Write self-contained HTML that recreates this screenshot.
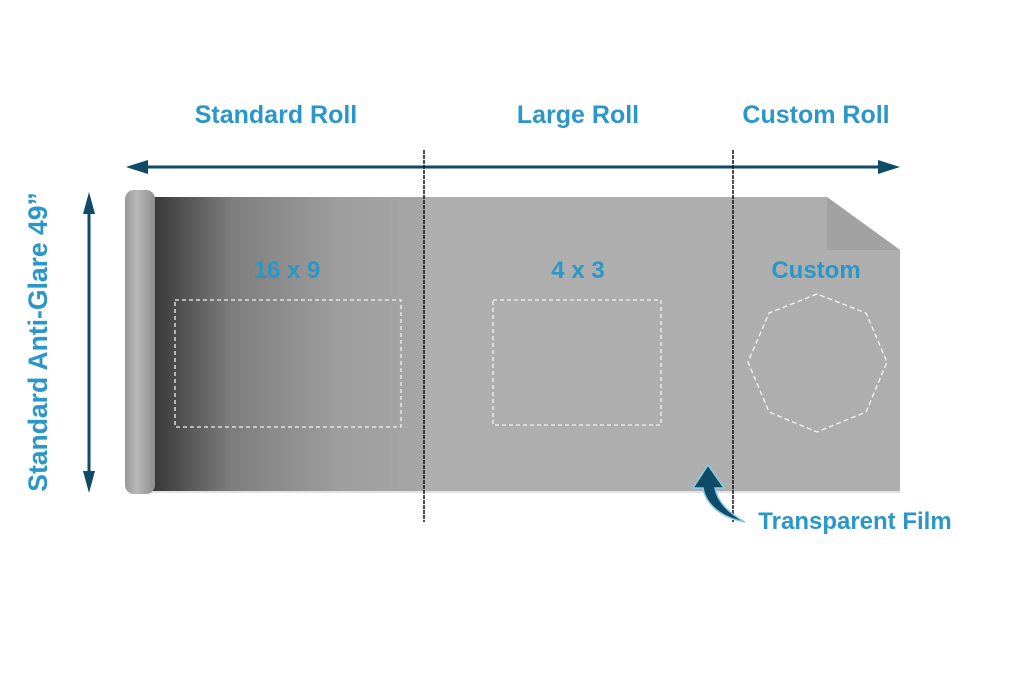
<!DOCTYPE html>
<html><head><meta charset="utf-8"><style>
html,body{margin:0;padding:0;background:#fff;width:1024px;height:683px;overflow:hidden}
text{font-family:"Liberation Sans",sans-serif;font-weight:bold;fill:#2a97c8}
</style></head><body>
<svg width="1024" height="683" viewBox="0 0 1024 683" xmlns="http://www.w3.org/2000/svg">
<defs>
<linearGradient id="sh" x1="0" x2="1" y1="0" y2="0">
<stop offset="0" stop-color="#353535"/><stop offset="0.3" stop-color="#7e7e7e"/><stop offset="0.7" stop-color="#9e9e9e"/><stop offset="1" stop-color="#a6a6a6"/>
</linearGradient>
<linearGradient id="rod" x1="0" x2="1">
<stop offset="0" stop-color="#9a9a9a"/><stop offset="0.4" stop-color="#b8b8b8"/><stop offset="1" stop-color="#8e8e8e"/>
</linearGradient>
</defs>
<polygon points="150,197 827,197 900,250 900,492 150,492" fill="#aeaeae"/>
<rect x="150" y="197" width="275" height="295" fill="url(#sh)"/>
<polygon points="827,197 900,250 827,250" fill="#a2a2a2"/>
<line x1="150" y1="492" x2="900" y2="492" stroke="#e2e2e2" stroke-width="2"/>
<rect x="125" y="190" width="30" height="304" rx="9" fill="url(#rod)"/>
<line x1="140" y1="167" x2="885" y2="167" stroke="#0e4b66" stroke-width="3"/>
<polygon points="126,167 148,160 148,174" fill="#0e4b66"/>
<polygon points="900,167 878,160 878,174" fill="#0e4b66"/>
<line x1="89" y1="205" x2="89" y2="480" stroke="#0e4b66" stroke-width="3"/>
<polygon points="89,192 83,214 95,214" fill="#0e4b66"/>
<polygon points="89,493 83,471 95,471" fill="#0e4b66"/>
<line x1="424" y1="150" x2="424" y2="522" stroke="#111" stroke-width="1.5" stroke-dasharray="4,1"/>
<line x1="733" y1="150" x2="733" y2="522" stroke="#111" stroke-width="1.5" stroke-dasharray="4,1"/>
<rect x="175" y="300" width="226" height="127" fill="none" stroke="#f2f2f2" stroke-width="1.3" stroke-dasharray="4,3"/>
<rect x="493" y="300" width="168" height="125" fill="none" stroke="#f2f2f2" stroke-width="1.3" stroke-dasharray="4,3"/>
<polygon points="817,294 769,313 748,362 769,412 817,432 866,412 887,362 866,313" fill="none" stroke="#f2f2f2" stroke-width="1.3" stroke-dasharray="5,3"/>
<text x="276" y="123" font-size="25" text-anchor="middle">Standard Roll</text>
<text x="578" y="123" font-size="25" text-anchor="middle">Large Roll</text>
<text x="816" y="123" font-size="25" text-anchor="middle">Custom Roll</text>
<text x="287" y="278" font-size="24" text-anchor="middle">16 x 9</text>
<text x="578" y="278" font-size="24" text-anchor="middle">4 x 3</text>
<text x="816" y="278" font-size="24" text-anchor="middle">Custom</text>
<text x="855" y="529" font-size="24" text-anchor="middle">Transparent Film</text>
<text transform="translate(47,342) rotate(-90)" font-size="26.5" text-anchor="middle">Standard Anti-Glare 49”</text>
<path d="M745,522 C722,518 706,505 703,488 L693,488 L708,465 L724,488 L715,488 C718,503 729,513 745,522 Z" fill="#0e4b66" stroke="#8ccbe8" stroke-width="1.5"/>
</svg>
</body></html>
